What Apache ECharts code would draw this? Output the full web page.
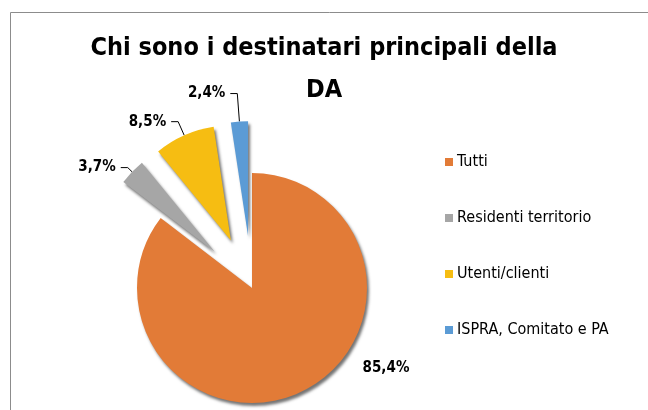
<!DOCTYPE html>
<html>
<head>
<meta charset="utf-8">
<script src="https://cdn.jsdelivr.net/npm/echarts@6/dist/echarts.min.js"></script>
<style>
  html, body { margin: 0; padding: 0; background: #fff; }
  #chart { width: 648px; height: 410px; }
</style>
</head>
<body>
<div id="chart"></div>
<script>
// data
const categories = ['Tutti', 'Residenti territorio', 'Utenti/clienti', 'ISPRA, Comitato e PA'];
const shares = [85.4, 3.7, 8.5, 2.4];
const colors = ['#E27B37', '#A6A6A6', '#F6BD12', '#5B9BD5'];
const exploded = [false, true, true, true];
const lineLengths = [0, 6, 15, 28];

const font = "'Liberation Sans Narrow', 'DejaVu Sans Condensed', sans-serif";

var myChart = echarts.init(document.getElementById('chart'));
myChart.setOption({
  animation: false,
  graphic: [{
    type: 'rect',
    shape: { x: 10.5, y: 12.5, width: 700, height: 500 },
    style: { fill: 'none', stroke: '#8c8c8c', lineWidth: 1 },
    silent: true
  }],
  title: {
    text: 'Chi sono i destinatari principali della\nDA',
    left: 'center',
    top: 22,
    textStyle: {
      fontFamily: font,
      fontSize: 25,
      fontWeight: 'bold',
      color: '#000',
      lineHeight: 42
    }
  },
  legend: {
    orient: 'vertical',
    left: 440,
    top: 149,
    itemWidth: 8,
    itemHeight: 8,
    itemGap: 40,
    icon: 'rect',
    data: categories,
    textStyle: { fontFamily: font, fontSize: 16, color: '#000', padding: [0, 0, 0, -1] }
  },
  series: [{
    type: 'pie',
    center: [252, 288],
    radius: 115,
    startAngle: 90,
    selectedMode: 'multiple',
    selectedOffset: 52,
    emphasis: { disabled: true },
    itemStyle: {
      shadowBlur: 3,
      shadowColor: 'rgba(0,0,0,0.55)',
      shadowOffsetX: 2,
      shadowOffsetY: 3
    },
    label: {
      show: true,
      position: 'outside',
      fontFamily: font,
      fontSize: 15,
      fontWeight: 'bold',
      color: '#000',
      formatter: p => String(p.value).replace('.', ',') + '%'
    },
    labelLine: {
      show: true,
      length: 8,
      length2: 8,
      lineStyle: { color: '#000', width: 1 }
    },
    labelLayout: function (params) {
      if (params.dataIndex === 0) {
        return { x: 386, y: 368, align: 'center', verticalAlign: 'middle' };
      }
    },
    data: categories.map((name, i) => ({
      name: name,
      value: shares[i],
      selected: exploded[i],
      itemStyle: { color: colors[i] },
      labelLine: i === 0 ? { show: false } : { length: lineLengths[i], length2: 7 }
    }))
  }]
});
</script>
</body>
</html>
